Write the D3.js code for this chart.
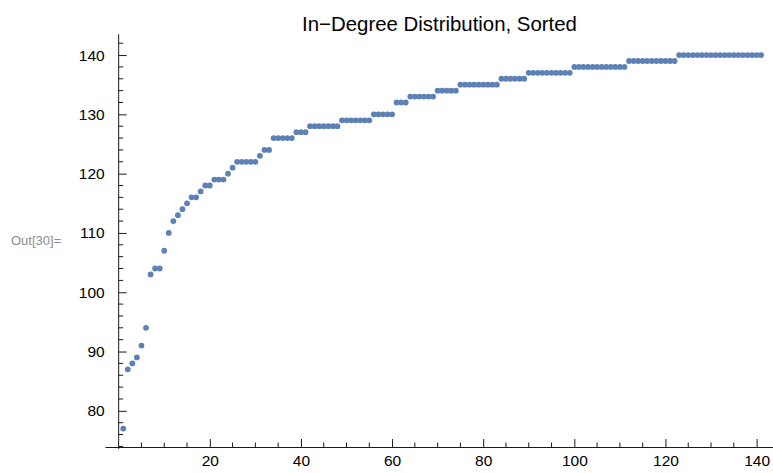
<!DOCTYPE html>
<html lang="en">
<head>
<meta charset="UTF-8">
<title>In-Degree Distribution, Sorted</title>
<script src="https://d3js.org/d3.v7.min.js"></script>
<style>
  body { margin: 0; background: #fff; }
  svg { display: block; font-family: "Liberation Sans", Arial, sans-serif; }
  .tick text { font-size: 15.5px; fill: #000; }
</style>
</head>
<body>
<script>
const width = 773;
const height = 473;

// sorted in-degree values (index 1..141)
const degrees = [
  77, 87, 88, 89, 91, 94, 103, 104, 104, 107,
  110, 112, 113, 114, 115, 116, 116, 117, 118, 118,
  119, 119, 119, 120, 121, 122, 122, 122, 122, 122,
  123, 124, 124, 126, 126, 126, 126, 126, 127, 127,
  127, 128, 128, 128, 128, 128, 128, 128, 129, 129,
  129, 129, 129, 129, 129, 130, 130, 130, 130, 130,
  132, 132, 132, 133, 133, 133, 133, 133, 133, 134,
  134, 134, 134, 134, 135, 135, 135, 135, 135, 135,
  135, 135, 135, 136, 136, 136, 136, 136, 136, 137,
  137, 137, 137, 137, 137, 137, 137, 137, 137, 138,
  138, 138, 138, 138, 138, 138, 138, 138, 138, 138,
  138, 139, 139, 139, 139, 139, 139, 139, 139, 139,
  139, 139, 140, 140, 140, 140, 140, 140, 140, 140,
  140, 140, 140, 140, 140, 140, 140, 140, 140, 140,
  140
];
const xTicks = [20, 40, 60, 80, 100, 120, 140];
const yTicks = [80, 90, 100, 110, 120, 130, 140];

const points = degrees.map((v, i) => ({ x: i + 1, y: v }));

const x = d3.scaleLinear().domain([-3, 143.6]).range([105, 773]);
const y = d3.scaleLinear().domain([73.9, 143.5]).range([447, 34.3]);

const svg = d3.select("body").append("svg")
  .attr("width", width)
  .attr("height", height)
  .attr("viewBox", [0, 0, width, height]);

const axisColor = "#1a1a1a";

// x axis: major every 20, minor every 5, ticks pointing up
const xMinor = d3.range(5, 145, 5).filter(d => d % 20 !== 0);
const gx = svg.append("g").attr("transform", `translate(0,${y(73.9)})`);
gx.call(d3.axisBottom(x).tickValues(xTicks).tickSizeInner(-8).tickSizeOuter(0).tickPadding(16));
gx.select(".domain").attr("stroke", axisColor);
gx.selectAll(".tick line").attr("stroke", axisColor);
gx.selectAll(".tick text").attr("dy", "0.2em");
gx.selectAll(".minor").data(xMinor).join("line")
  .attr("class", "minor")
  .attr("x1", d => x(d)).attr("x2", d => x(d))
  .attr("y1", 0).attr("y2", -4.5)
  .attr("stroke", axisColor);

// y axis at x = 0: major every 10, minor every 2, ticks pointing right
const yMinor = d3.range(74, 144, 2).filter(d => d % 10 !== 0);
const gy = svg.append("g").attr("transform", `translate(${x(0)},0)`);
gy.call(d3.axisLeft(y).tickValues(yTicks).tickSizeInner(-8).tickSizeOuter(0).tickPadding(14));
gy.select(".domain").attr("stroke", axisColor).attr("d", `M0,${y(143.5)}V${y(73.9) + 2}`);
gy.selectAll(".tick line").attr("stroke", axisColor);
gy.selectAll(".minor").data(yMinor).join("line")
  .attr("class", "minor")
  .attr("y1", d => y(d)).attr("y2", d => y(d))
  .attr("x1", 0).attr("x2", 4.5)
  .attr("stroke", axisColor);

// points
svg.append("g")
  .selectAll("circle")
  .data(points)
  .join("circle")
  .attr("cx", d => x(d.x))
  .attr("cy", d => y(d.y))
  .attr("r", 2.9)
  .attr("fill", "#5e81b5");

// title
svg.append("text")
  .attr("x", 439.5)
  .attr("y", 31)
  .attr("text-anchor", "middle")
  .style("font-size", "20.4px")
  .attr("fill", "#000")
  .text("In\u2212Degree Distribution, Sorted");

// notebook output label
svg.append("text")
  .attr("x", 11)
  .attr("y", 245)
  .style("font-size", "13px")
  .attr("fill", "#8c8c8c")
  .text("Out[30]=");
</script>
</body>
</html>
